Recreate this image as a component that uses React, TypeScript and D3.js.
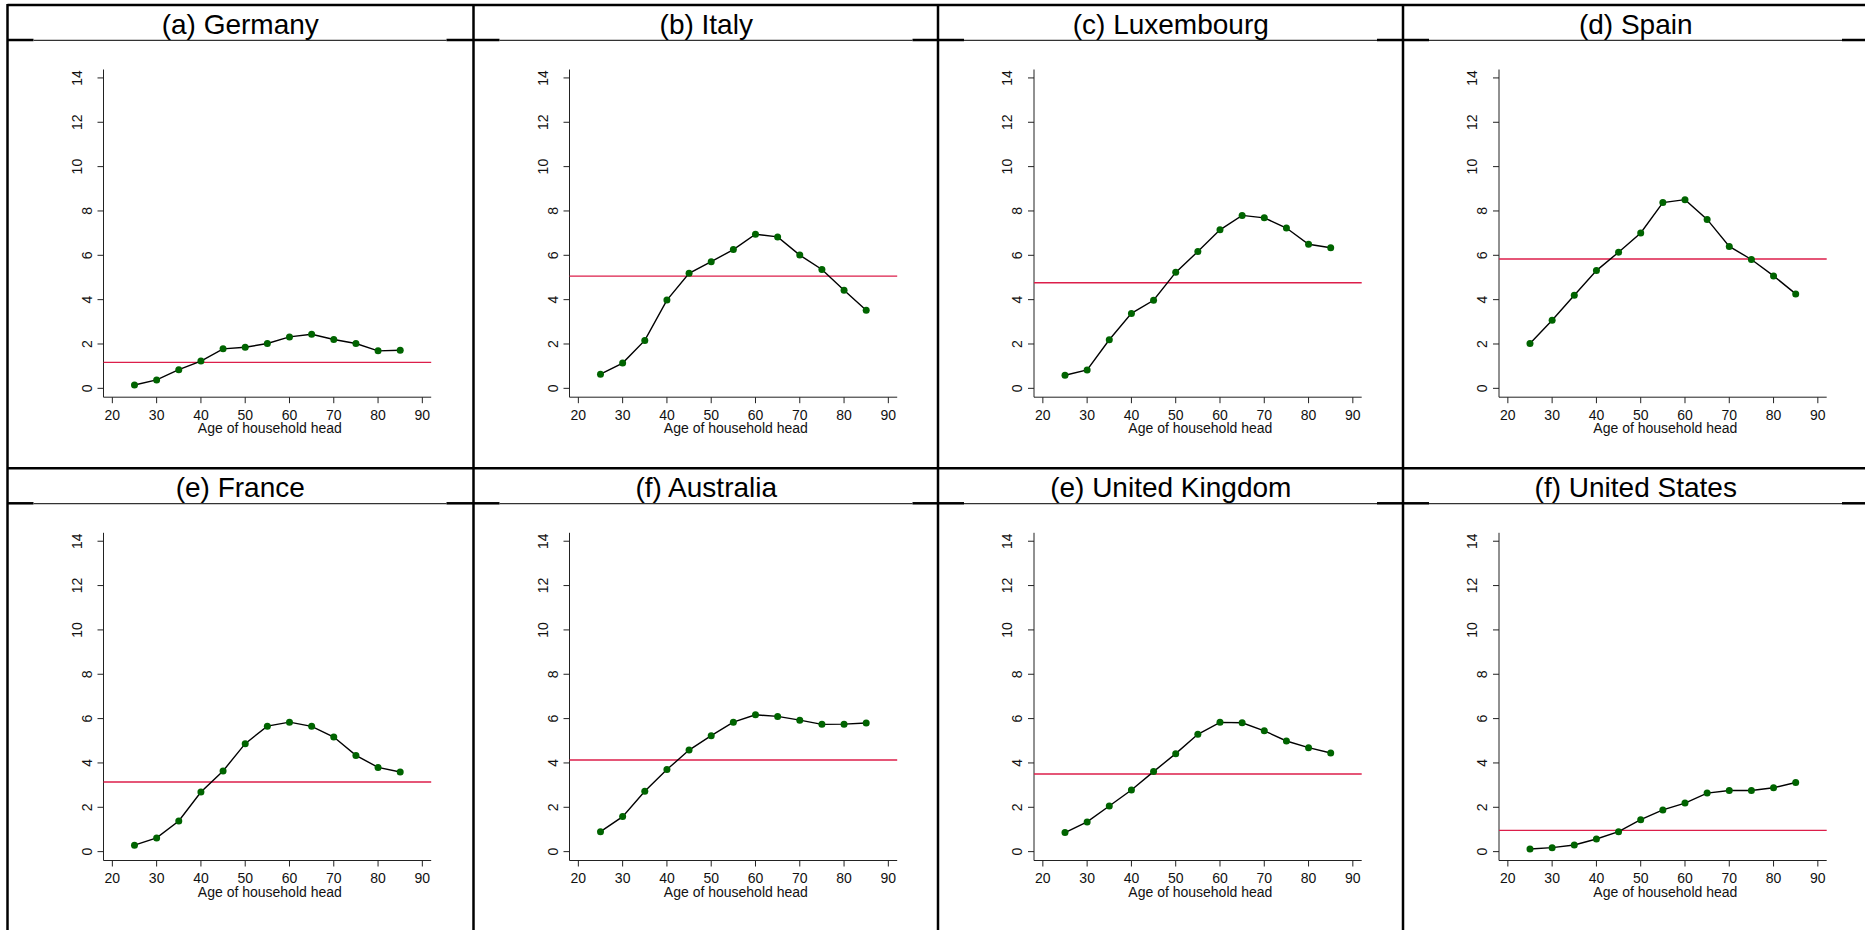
import React from "react";
import * as d3 from "d3";

const ages = [25, 30, 35, 40, 45, 50, 55, 60, 65, 70, 75, 80, 85];
const titles = [
  "(a) Germany",
  "(b) Italy",
  "(c) Luxembourg",
  "(d) Spain",
  "(e) France",
  "(f) Australia",
  "(e) United Kingdom",
  "(f) United States",
];
const germany = [0.15, 0.38, 0.84, 1.23, 1.78, 1.85, 2.02, 2.32, 2.44, 2.2, 2.02, 1.69, 1.72];
const italy = [0.64, 1.14, 2.16, 3.98, 5.19, 5.71, 6.26, 6.95, 6.83, 6.01, 5.36, 4.42, 3.52];
const luxembourg = [0.59, 0.83, 2.19, 3.38, 3.97, 5.23, 6.17, 7.15, 7.8, 7.69, 7.23, 6.5, 6.34];
const spain = [2.02, 3.07, 4.2, 5.31, 6.14, 7.01, 8.38, 8.51, 7.62, 6.4, 5.81, 5.07, 4.26];
const france = [0.29, 0.62, 1.38, 2.69, 3.64, 4.87, 5.66, 5.84, 5.65, 5.17, 4.34, 3.8, 3.59];
const australia = [0.9, 1.58, 2.72, 3.7, 4.58, 5.23, 5.84, 6.17, 6.1, 5.93, 5.74, 5.75, 5.8];
const unitedKingdom = [0.86, 1.34, 2.06, 2.78, 3.61, 4.42, 5.29, 5.83, 5.81, 5.45, 4.99, 4.69, 4.45];
const unitedStates = [0.12, 0.18, 0.3, 0.57, 0.9, 1.44, 1.88, 2.19, 2.64, 2.76, 2.76, 2.88, 3.12];
const means = [1.17, 5.06, 4.76, 5.83, 3.14, 4.13, 3.5, 0.96];
const series = [germany, italy, luxembourg, spain, france, australia, unitedKingdom, unitedStates];
const xTicks = [20, 30, 40, 50, 60, 70, 80, 90];
const yTicks = [0, 2, 4, 6, 8, 10, 12, 14];
const xTitle = "Age of household head";

const W = 1865;
const H = 930;
const FONT = "'Liberation Sans', Arial, sans-serif";
const colLefts = [7.5, 473.5, 938, 1403];
const colW = 465.5;
const rowTops = [5, 468.3];

function Panel({ idx }: { idx: number }) {
  const col = idx % 4;
  const row = Math.floor(idx / 4);
  const L = colLefts[col];
  const R = rowTops[row];
  const axisX = L + 96;
  const plotTop = R + 64.5;
  const plotBottom = R + 392.2;
  const x = d3.scaleLinear().domain([18, 92]).range([axisX, axisX + 327.7]);
  const y = d3.scaleLinear().domain([-0.4, 14.38]).range([plotBottom, plotTop]);
  const vals = series[idx];
  const pts = ages.map((a, i) => [a, vals[i]] as [number, number]);
  const line = d3
    .line<[number, number]>()
    .x((d) => x(d[0]))
    .y((d) => y(d[1]));
  const cx = L + colW / 2;
  return (
    <g>
      <text
        x={cx}
        y={R + 28.5}
        textAnchor="middle"
        fontFamily={FONT}
        fontSize={28}
        fill="#000"
      >
        {titles[idx]}
      </text>
      <line x1={axisX} x2={axisX} y1={plotTop} y2={plotBottom} stroke="#222" strokeWidth={1} />
      <line x1={axisX} x2={x(92)} y1={plotBottom} y2={plotBottom} stroke="#222" strokeWidth={1} />
      {yTicks.map((t) => (
        <g key={"y" + t}>
          <line x1={axisX - 6} x2={axisX} y1={y(t)} y2={y(t)} stroke="#222" strokeWidth={1} />
          <text
            transform={`translate(${axisX - (String(t).length > 1 ? 27 : 17)},${y(t)}) rotate(-90)`}
            textAnchor="middle"
            dominantBaseline="central"
            fontFamily={FONT}
            fontSize={14}
            fill="#111"
          >
            {t}
          </text>
        </g>
      ))}
      {xTicks.map((t) => (
        <g key={"x" + t}>
          <line x1={x(t)} x2={x(t)} y1={plotBottom} y2={plotBottom + 6} stroke="#222" strokeWidth={1} />
          <text
            x={x(t)}
            y={plotBottom + 22.6}
            textAnchor="middle"
            fontFamily={FONT}
            fontSize={14}
            fill="#111"
          >
            {t}
          </text>
        </g>
      ))}
      <text
        x={(x(18) + x(92)) / 2 + 2.5}
        y={plotBottom + 36}
        textAnchor="middle"
        fontFamily={FONT}
        fontSize={14}
        fill="#111"
      >
        {xTitle}
      </text>
      <line
        x1={axisX}
        x2={x(92)}
        y1={y(means[idx])}
        y2={y(means[idx])}
        stroke="#dc1e4a"
        strokeWidth={1.4}
      />
      <path d={line(pts) || ""} fill="none" stroke="#000" strokeWidth={1.4} />
      {pts.map((p, i) => (
        <circle key={i} cx={x(p[0])} cy={y(p[1])} r={3.5} fill="#006400" />
      ))}
    </g>
  );
}

export default function App() {
  const borderW = 2.5;
  return (
    <svg
      width={W}
      height={H}
      style={{ position: "absolute", left: 0, top: 0, background: "#fff" }}
    >
      <rect x={0} y={0} width={W} height={H} fill="#fff" />
      {rowTops.map((r, i) => (
        <line key={"t" + i} x1={colLefts[0]} x2={W} y1={r} y2={r} stroke="#000" strokeWidth={borderW} />
      ))}
      {rowTops.map((r, ri) =>
        colLefts.map((L, ci) => (
          <g key={`tl${ri}-${ci}`}>
            <line x1={L} x2={L + 26} y1={r + 35} y2={r + 35} stroke="#000" strokeWidth={borderW} />
            <line x1={L + 26} x2={L + 439} y1={r + 35.3} y2={r + 35.3} stroke="#333" strokeWidth={1.3} />
            <line x1={L + 439} x2={L + colW} y1={r + 35} y2={r + 35} stroke="#000" strokeWidth={borderW} />
          </g>
        ))
      )}
      {colLefts.map((L, i) => (
        <line key={"v" + i} x1={L} x2={L} y1={rowTops[0] - 1} y2={H + 5} stroke="#000" strokeWidth={borderW} />
      ))}
      {titles.map((_, i) => (
        <Panel key={i} idx={i} />
      ))}
    </svg>
  );
}
